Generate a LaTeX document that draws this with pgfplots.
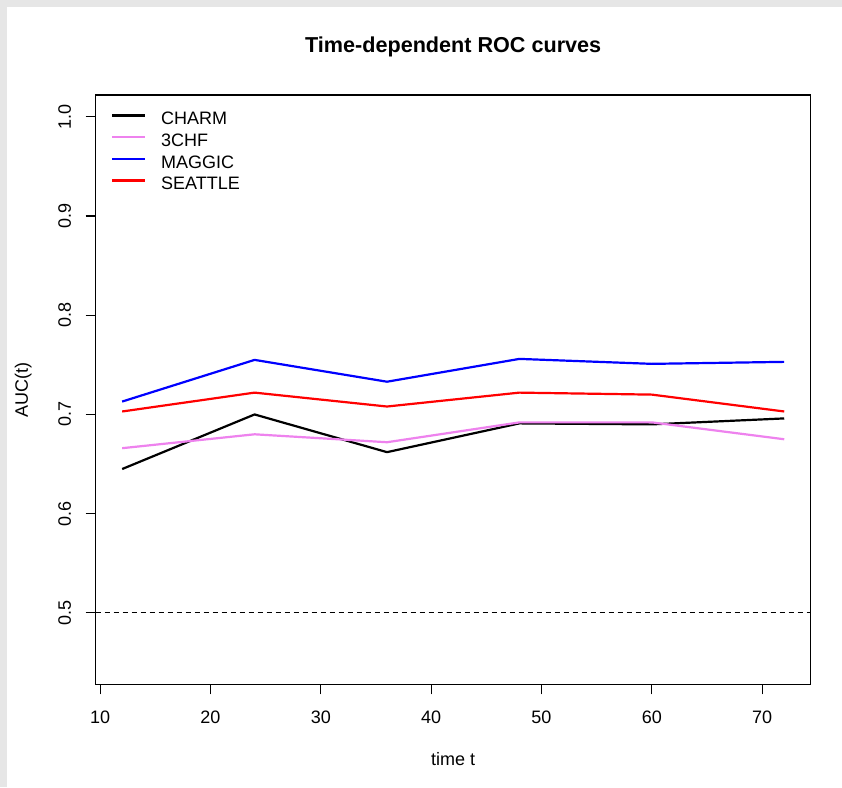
\documentclass[border=0pt]{standalone}
\usepackage{fontspec}
\setmainfont{Liberation Sans}
\usepackage{pgfplots}
\pgfplotsset{compat=1.18}
\definecolor{rviolet}{HTML}{EE82EE}
\definecolor{framegray}{HTML}{E6E6E6}
\begin{document}
\begin{tikzpicture}
\useasboundingbox (-95.7pt,-102.7pt) rectangle (746.3pt,684.3pt);
\fill[white] (-95.7pt,-102.7pt) rectangle (746.3pt,684.3pt);
\fill[framegray] (-95.7pt,677.6pt) rectangle (746.3pt,684.3pt);
\fill[framegray] (-95.7pt,-102.7pt) rectangle (-89pt,684.3pt);
\begin{axis}[
  at={(0pt,0pt)}, anchor=south west,
  scale only axis, width=715pt, height=589.3pt,
  xmin=9.6, xmax=74.4, ymin=0.428, ymax=1.022,
  axis line style={line width=1.1pt},
  xtick={10,20,30,40,50,60,70}, xticklabels={10,20,30,40,50,60,70},
  ytick={0.5,0.6,0.7,0.8,0.9,1.0}, yticklabels={0.5,0.6,0.7,0.8,0.9,1.0},
  xtick pos=bottom, ytick pos=left, tick align=outside,
  major tick length=10pt,
  every tick/.style={line width=1.1pt, black},
  tick label style={font=\fontsize{18}{21.6}\selectfont},
  xticklabel style={anchor=base, inner sep=0pt}, xticklabel shift=28.7pt,
  yticklabel style={anchor=base, inner sep=0pt, rotate=90}, yticklabel shift=14.7pt,
  title={Time-dependent ROC curves},
  title style={at={(axis description cs:0.5,1.0611)}, anchor=base, font=\fontsize{21.6}{26}\selectfont\bfseries},
  xlabel={time t},
  xlabel style={at={(axis description cs:0.5,-0.1386)}, anchor=base, font=\fontsize{18}{21.6}\selectfont},
  ylabel={AUC(t)},
  ylabel style={at={(axis description cs:-0.0947,0.5)}, anchor=base, font=\fontsize{18}{21.6}\selectfont},
  legend style={at={(rel axis cs:0,1)}, anchor=north west, xshift=15.6pt, yshift=-9.9pt,
    draw=none, fill=none, inner sep=0pt, outer sep=0pt, row sep=0pt, column sep=0pt,
    font=\fontsize{18}{21.6}\selectfont,
    nodes={inner sep=0pt, outer sep=0pt, text height=20.1pt, text depth=1.5pt}},
  legend cell align=left,
  legend image code/.code={\draw[#1, line width=2.4pt] (0pt,0pt) -- (32.7pt,0pt); \path (47.5pt,0pt);},
  every axis plot/.append style={line join=round},
]
\addplot[black, line width=2.2pt] coordinates {(12,0.645) (24,0.700) (36,0.662) (48,0.691) (60,0.690) (72,0.696)};
\addlegendentry{CHARM}
\addplot[rviolet, line width=2.2pt] coordinates {(12,0.666) (24,0.680) (36,0.672) (48,0.692) (60,0.692) (72,0.675)};
\addlegendentry{3CHF}
\addplot[blue, line width=2.2pt] coordinates {(12,0.713) (24,0.755) (36,0.733) (48,0.756) (60,0.751) (72,0.753)};
\addlegendentry{MAGGIC}
\addplot[red, line width=2.2pt] coordinates {(12,0.703) (24,0.722) (36,0.708) (48,0.722) (60,0.720) (72,0.703)};
\addlegendentry{SEATTLE}
\addplot[black, line width=1pt, dash pattern=on 5pt off 4pt, forget plot] coordinates {(9.6,0.5) (74.4,0.5)};
\end{axis}
\end{tikzpicture}
\end{document}
